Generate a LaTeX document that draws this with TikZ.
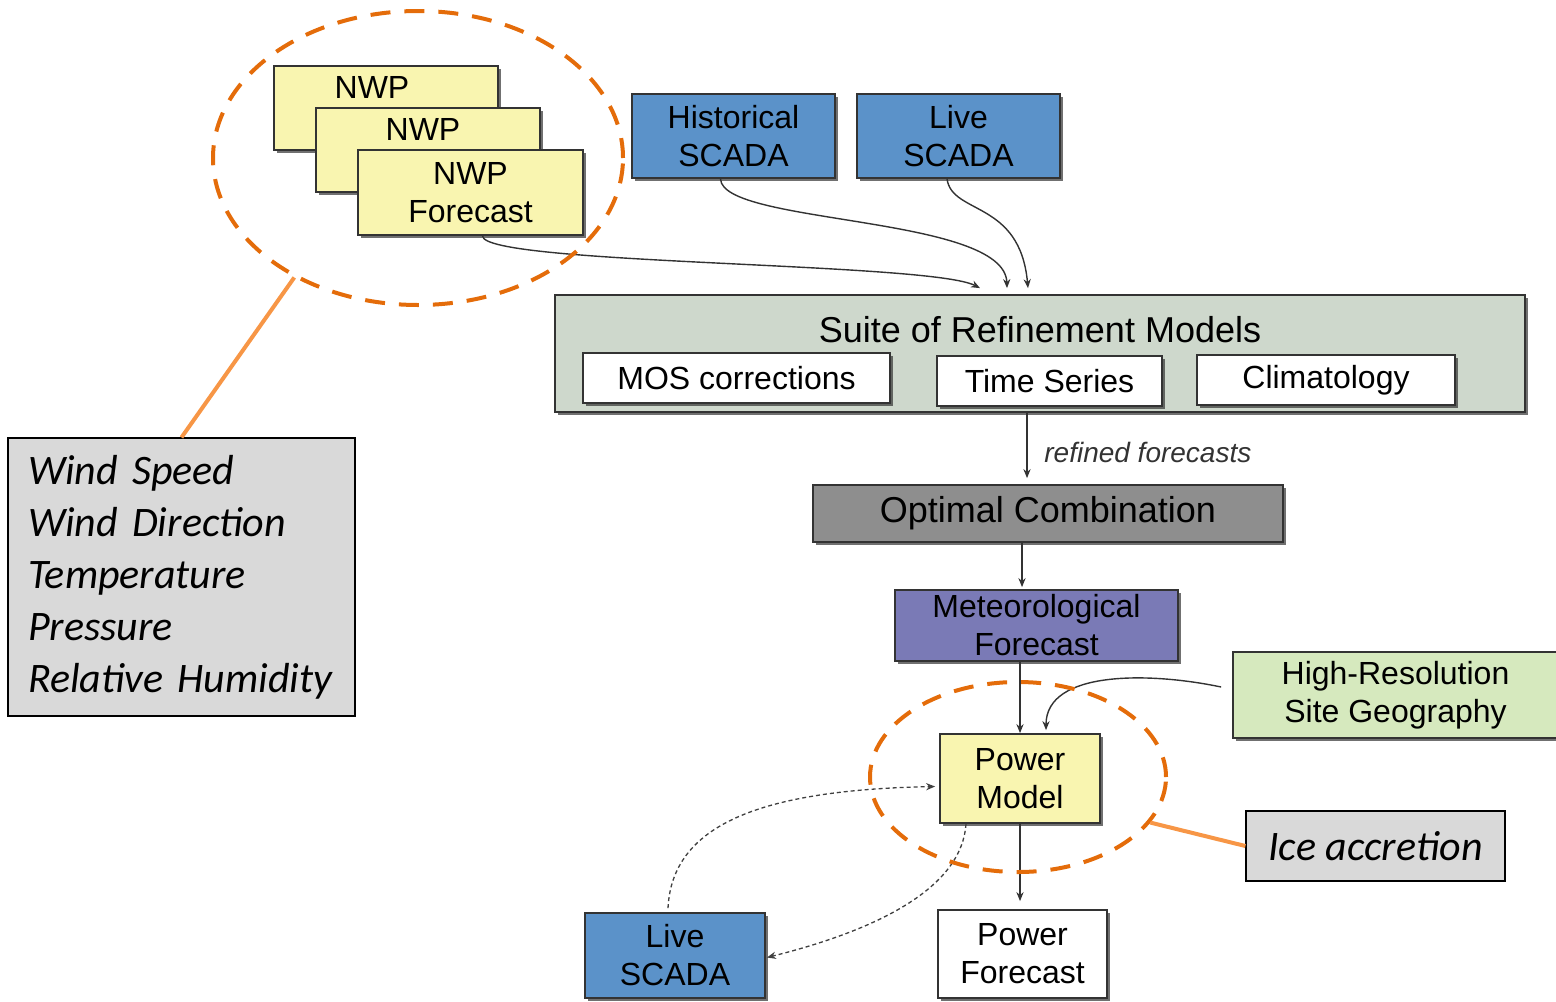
\documentclass[tikz,border=0pt]{standalone}
\usepackage{fontspec}
\setmainfont{Liberation Sans}
\newfontfamily\calfont{Carlito}
\usetikzlibrary{arrows.meta, calc, shadows, shapes.geometric}
\definecolor{nwpyellow}{RGB}{249,245,176}
\definecolor{scadablue}{RGB}{91,146,201}
\definecolor{suitegreen}{RGB}{206,216,204}
\definecolor{optgray}{RGB}{142,142,142}
\definecolor{metpurple}{RGB}{122,122,182}
\definecolor{hiresgreen}{RGB}{214,233,190}
\definecolor{calloutgray}{RGB}{217,217,217}
\definecolor{ringorange}{RGB}{228,108,10}
\definecolor{leadorange}{RGB}{247,150,70}
\tikzset{box/.style = {draw=black!80, line width=0.9pt, align=center, inner sep=0pt,
    font=\fontsize{16}{19}\selectfont,
    drop shadow={shadow xshift=1.6pt, shadow yshift=-1.6pt, opacity=0.7, fill=black!80}}}
\tikzset{flow/.style = {draw=black!80, line width=0.7pt, -{Stealth[length=4.5pt, width=3.6pt]}}}
\tikzset{feed/.style = {flow, draw=black!75, line width=0.65pt, dash pattern=on 2pt off 1.5pt}}
\tikzset{ring/.style = {ellipse, draw=ringorange, line width=2pt, inner sep=0pt, dash pattern=on 10pt off 7pt}}
\tikzset{lead/.style = {draw=leadorange, line width=2pt}}
\tikzset{callout/.style = {draw=black, line width=0.6pt, fill=calloutgray, inner sep=0pt,
    font=\calfont\itshape\fontsize{21}{26}\selectfont}}

\begin{document}
\begin{tikzpicture}[x=0.5pt, y=-0.5pt]
\useasboundingbox (0,0) rectangle (1556,1001);
\node[box, fill=nwpyellow, minimum width=112pt, minimum height=42pt] (nwpA) at (386,108) {};
\node[font=\fontsize{16}{19}\selectfont] (nwpAtext) at (372,87) {NWP};
\node[box, fill=nwpyellow, minimum width=112pt, minimum height=42pt] (nwpB) at (428,150) {};
\node[font=\fontsize{16}{19}\selectfont] (nwpBtext) at (423,129) {NWP};
\node[box, fill=nwpyellow, minimum width=112.5pt, minimum height=42.5pt] (nwpC) at (470.5,192.5) {NWP\\Forecast};
\node[box, fill=scadablue, minimum width=101.5pt, minimum height=42pt] (hscada) at (733.5,136) {Historical\\SCADA};
\node[box, fill=scadablue, minimum width=101.5pt, minimum height=42pt] (lscadaT) at (958.5,136) {Live\\SCADA};

\node[box, fill=suitegreen, minimum width=485pt, minimum height=58.5pt] (suite) at (1040,353.5) {};
\node[font=\fontsize{18}{21}\selectfont] (suitetitle) at (1040,330) {Suite of Refinement Models};
\node[box, fill=white, minimum width=153.5pt, minimum height=25pt] (mos) at (736.5,378) {MOS corrections};
\node[box, fill=white, minimum width=112.5pt, minimum height=25pt] (tseries) at (1049.5,381) {Time Series};
\node[box, fill=white, minimum width=129pt, minimum height=25pt] (clim) at (1326,380) {Climatology};

\node[box, fill=optgray, minimum width=235pt, minimum height=28.5pt, font=\fontsize{18}{21}\selectfont] (optc) at (1048,513.5) {Optimal Combination};
\node[box, fill=metpurple, minimum width=141.5pt, minimum height=35.5pt] (metf) at (1036.5,625.5) {Meteorological\\Forecast};
\node[box, fill=hiresgreen, minimum width=162.5pt, minimum height=43pt] (hires) at (1395.5,695) {High-Resolution\\Site Geography};
\node[box, fill=nwpyellow, minimum width=80pt, minimum height=44.5pt] (pmodel) at (1020,778.5) {Power\\Model};
\node[box, fill=white, minimum width=84.5pt, minimum height=44pt] (pfc) at (1022.5,954) {Power\\Forecast};
\node[box, fill=scadablue, minimum width=90pt, minimum height=42.5pt] (lscadaB) at (675,955.5) {Live\\SCADA};

\node[callout, minimum width=173.5pt, minimum height=139pt, text width=153.5pt, align=left] (vars) at (181.5,577)
  {Wind Speed\\Wind Direction\\Temperature\\Pressure\\Relative Humidity};
\node[callout, minimum width=129.5pt, minimum height=35pt] (ice) at (1375.5,846) {Ice accretion};

\draw[flow] ($(nwpC.south)+(12,0)$) .. controls (483,265) and (930,262) .. ($(suite.north)+(-60,-6)$);
\draw[flow] ($(hscada.south)+(-13,0)$) .. controls (722,225) and (1005,215) .. ($(suite.north)+(-33,-6)$);
\draw[flow] ($(lscadaT.south)+(-11.5,0)$) .. controls (952,215) and (1020,200) .. ($(suite.north)+(-12,-6)$);
\coordinate (rf) at (1027,0);
\draw[flow, shorten >=3pt] (suite.south -| rf) -- (optc.north -| rf)
  node[midway, right=5pt, yshift=-2pt, text=black!80, font=\itshape\fontsize{14}{16}\selectfont] (rflabel) {refined forecasts};
\draw[flow] ($(optc.south)+(-26,0)$) -- ($(metf.north)+(-14.5,-2)$);
\draw[flow] (metf.south -| pmodel.north) -- (pmodel.north);
\draw[flow] ($(hires.west)+(-11,-8)$) .. controls (1150,672) and (1046,670) .. ($(pmodel.north)+(26,-3)$);
\draw[flow, shorten >=4pt] (pmodel.south) -- (pmodel.south |- pfc.north);
\draw[feed] ($(lscadaB.north)+(-7,-4)$) .. controls (672,825) and (760,790) .. ($(pmodel.west)+(-4,8)$);
\draw[feed] ($(pmodel.south)+(-54,0)$) .. controls (962,885) and (885,928) .. ($(lscadaB.east)+(1,2)$);

\node[ring, minimum width=205pt, minimum height=147pt] (nwpring) at (418,158) {};
\node[ring, minimum width=148pt, minimum height=95pt] (pmring) at (1018,777) {};
\draw[lead] (nwpring.224) -- (vars.north);
\draw[lead] (pmring.341) -- (ice.west);
\end{tikzpicture}
\end{document}
